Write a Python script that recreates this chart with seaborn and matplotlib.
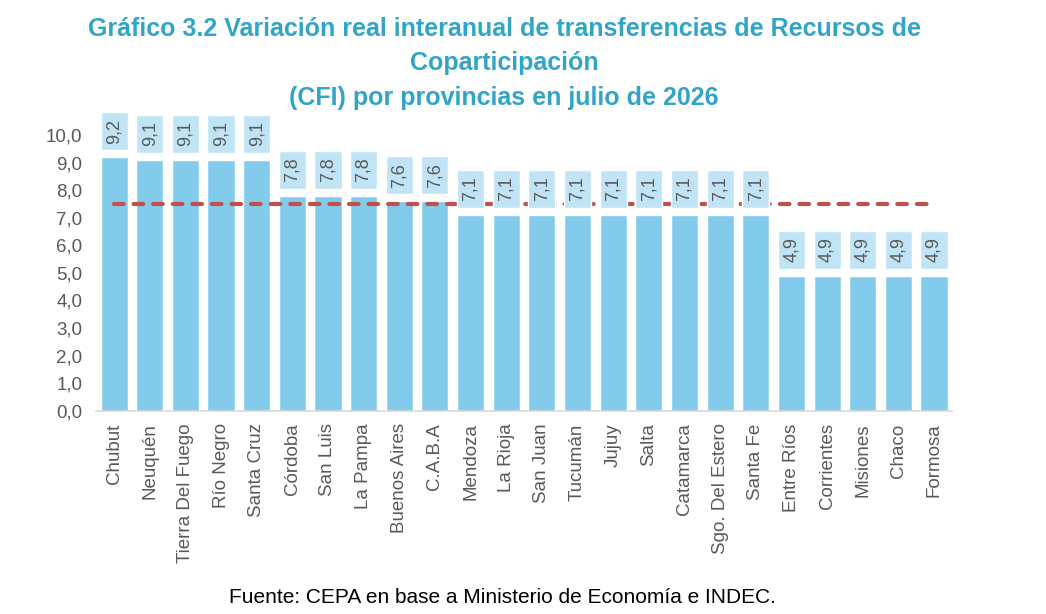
import numpy as np
import pandas as pd
import matplotlib
matplotlib.use("Agg")
import matplotlib.pyplot as plt
import seaborn as sns

provincias = ["Chubut", "Neuquén", "Tierra Del Fuego", "Río Negro", "Santa Cruz",
              "Córdoba", "San Luis", "La Pampa", "Buenos Aires", "C.A.B.A",
              "Mendoza", "La Rioja", "San Juan", "Tucumán", "Jujuy", "Salta",
              "Catamarca", "Sgo. Del Estero", "Santa Fe", "Entre Ríos",
              "Corrientes", "Misiones", "Chaco", "Formosa"]
variacion = [9.2, 9.1, 9.1, 9.1, 9.1,
             7.8, 7.8, 7.8, 7.6, 7.6,
             7.1, 7.1, 7.1, 7.1, 7.1, 7.1,
             7.1, 7.1, 7.1, 4.9,
             4.9, 4.9, 4.9, 4.9]
promedio = 7.5

title_lines = ["Gráfico 3.2 Variación real interanual de transferencias de Recursos de",
               "Coparticipación",
               "(CFI) por provincias en julio de 2026"]
fuente = "Fuente: CEPA en base a Ministerio de Economía e INDEC."

df = pd.DataFrame({"provincia": provincias, "variacion": variacion})
df["promedio"] = promedio

sns.set_theme(style="white")
plt.rcParams["font.family"] = ["Liberation Sans", "DejaVu Sans"]

bar_color = "#83CBEB"
box_color = "#C0E4F5"
text_color = "#595959"
title_color = "#31A5C8"

fig = plt.figure(figsize=(10.46, 6.14), dpi=100)
ax = fig.add_axes([0.092, 0.331, 0.818, 0.485])

sns.barplot(data=df, x="provincia", y="variacion", color=bar_color,
            saturation=1, width=0.76, ax=ax, zorder=2)

# average line: over the bars, under the label boxes
sns.lineplot(data=df, x="provincia", y="promedio", color="#C0504D",
             linewidth=3, linestyle=(0, (2.3, 2.4)), dash_capstyle="round",
             ax=ax, zorder=2.5)

# label boxes above each bar
pos = np.arange(len(provincias))
gap, box_h = 0.25, 1.38
ax.bar(pos, box_h, bottom=df["variacion"] + gap, width=0.76,
       color=box_color, zorder=3)
for x, v in zip(pos, df["variacion"]):
    ax.text(x, v + gap + box_h / 2, f"{v:.1f}".replace(".", ","),
            rotation=90, ha="center", va="center", fontsize=13,
            color=text_color, zorder=4)

ax.set_ylim(0, 10.8)
ax.set_xlim(-0.5, len(provincias) - 0.5)
ax.set_yticks(np.arange(0, 11, 1))
ax.set_yticklabels([f"{t:.1f}".replace(".", ",") for t in np.arange(0, 11, 1)])
ax.tick_params(axis="y", labelsize=13.5, labelcolor=text_color, length=0, pad=10)
ax.tick_params(axis="x", labelsize=13.5, labelcolor=text_color, length=0,
               rotation=90, pad=9)
ax.set_xlabel("")
ax.set_ylabel("")
for s in ["left", "right", "top"]:
    ax.spines[s].set_visible(False)
ax.spines["bottom"].set_color("#D9D9D9")
ax.spines["bottom"].set_linewidth(1.2)

for line, y in zip(title_lines, [0.953, 0.898, 0.841]):
    fig.text(0.482, y, line, ha="center", va="center", fontsize=18,
             fontweight="bold", color=title_color)

fig.text(0.48, 0.027, fuente, ha="center", va="center", fontsize=15,
         color="black")

fig.savefig("out.png", dpi=100)
